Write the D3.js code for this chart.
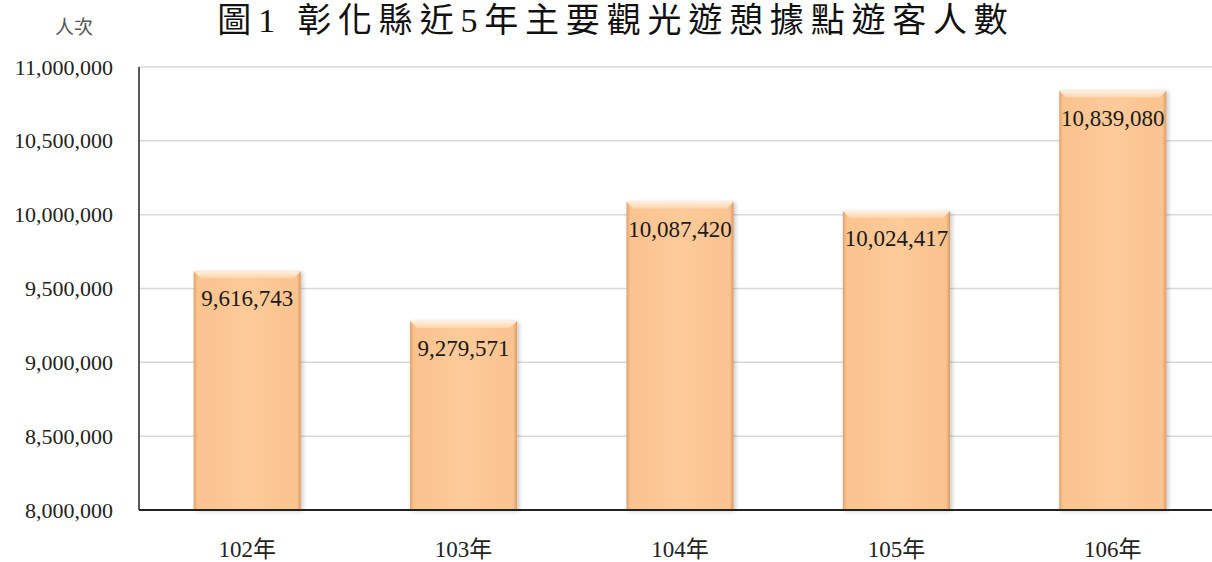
<!DOCTYPE html>
<html><head><meta charset="utf-8">
<script src="https://cdn.jsdelivr.net/npm/d3@7"></script>
<style>
body{margin:0;background:#fff;}
svg{display:block;}
</style></head>
<body>
<svg id="c" width="1212" height="562"></svg>
<script>
const categories = ["102年","103年","104年","105年","106年"];
const values = [9616743, 9279571, 10087420, 10024417, 10839080];
const yTicks = [8000000, 8500000, 9000000, 9500000, 10000000, 10500000, 11000000];
const title = "圖1 彰化縣近5年主要觀光遊憩據點遊客人數";
const yUnit = "人次";

(function(){
const FONT = "'Liberation Serif','Noto Sans CJK TC',serif";
const svg = d3.select("#c").attr("font-family", FONT);
const W = 1212, H = 562;
const pLeft = 139, pRight = 1221, pTop = 67, pBottom = 510;

const x = d3.scaleBand().domain(categories).range([pLeft, pRight]).paddingInner(0.505).paddingOuter(0.2525);
const y = d3.scaleLinear().domain([8000000, 11000000]).range([pBottom, pTop]);
const fmt = d3.format(",");

const defs = svg.append("defs");
const hg = defs.append("linearGradient").attr("id","hg").attr("x1","0").attr("x2","1").attr("y1","0").attr("y2","0");
hg.append("stop").attr("offset","0").attr("stop-color","#E3A06A");
hg.append("stop").attr("offset","0.035").attr("stop-color","#FAC38F");
hg.append("stop").attr("offset","0.5").attr("stop-color","#FDCA99");
hg.append("stop").attr("offset","0.965").attr("stop-color","#FAC38F");
hg.append("stop").attr("offset","1").attr("stop-color","#DC9A63");
const tg = defs.append("linearGradient").attr("id","tg").attr("x1","0").attr("x2","0").attr("y1","0").attr("y2","1");
tg.append("stop").attr("offset","0").attr("stop-color","#FFF0DE");
tg.append("stop").attr("offset","1").attr("stop-color","#FDD3A8");
const f = defs.append("filter").attr("id","sh").attr("x","-20%").attr("y","-20%").attr("width","140%").attr("height","140%");
f.append("feDropShadow").attr("dx",2).attr("dy",1).attr("stdDeviation",2).attr("flood-color","#000").attr("flood-opacity",0.22);

// gridlines
svg.append("g").selectAll("line").data(yTicks.slice(1)).join("line")
  .attr("x1", pLeft).attr("x2", W).attr("y1", d=>y(d)).attr("y2", d=>y(d))
  .attr("stroke","#d9d9d9").attr("stroke-width",1.5);

// y axis
const yAxis = d3.axisLeft(y).tickValues(yTicks).tickFormat(fmt).tickSize(0).tickPadding(26);
const ga = svg.append("g").attr("transform",`translate(${pLeft},0)`).call(yAxis);
ga.attr("font-family", FONT);
ga.select(".domain").remove();
ga.selectAll("text").attr("font-size",22).attr("fill","#222");

// bars
const bars = svg.append("g").selectAll("g").data(values).join("g");
bars.append("rect")
  .attr("x",(d,i)=>x(categories[i])).attr("width",x.bandwidth())
  .attr("y",d=>y(d)).attr("height",d=>pBottom-y(d))
  .attr("fill","url(#hg)").attr("filter","url(#sh)");
bars.append("path")
  .attr("d",(d,i)=>{const x0=x(categories[i]),x1=x0+x.bandwidth(),y0=y(d),b=7;
    return `M${x0},${y0}L${x1},${y0}L${x1-b},${y0+b}L${x0+b},${y0+b}Z`;})
  .attr("fill","url(#tg)");

bars.append("text")
  .attr("x",(d,i)=>x(categories[i])+x.bandwidth()/2)
  .attr("y",d=>y(d)+35)
  .attr("text-anchor","middle").attr("font-size",23).attr("fill","#1a1a1a")
  .text(d=>fmt(d));

// axis lines
svg.append("line").attr("x1",pLeft).attr("x2",pLeft).attr("y1",pTop).attr("y2",pBottom).attr("stroke","#222").attr("stroke-width",1.5);
svg.append("line").attr("x1",pLeft).attr("x2",W).attr("y1",pBottom).attr("y2",pBottom).attr("stroke","#222").attr("stroke-width",2);

// x axis labels
const xAxis = d3.axisBottom(x).tickSize(0).tickPadding(0);
const gx = svg.append("g").attr("transform",`translate(0,${pBottom})`).call(xAxis);
gx.attr("font-family", FONT);
gx.select(".domain").remove();
gx.selectAll("text").attr("font-size",23).attr("fill","#222").attr("dy",null).attr("y",47);

// unit
svg.append("text").attr("x",74).attr("y",34).attr("text-anchor","middle").attr("font-size",19).attr("fill","#555").text(yUnit);

// title
svg.append("text").attr("x",616).attr("y",32).attr("text-anchor","middle").attr("font-size",34).attr("fill","#111")
  .attr("letter-spacing",6.8).text(title);
})();
</script>
</body></html>
